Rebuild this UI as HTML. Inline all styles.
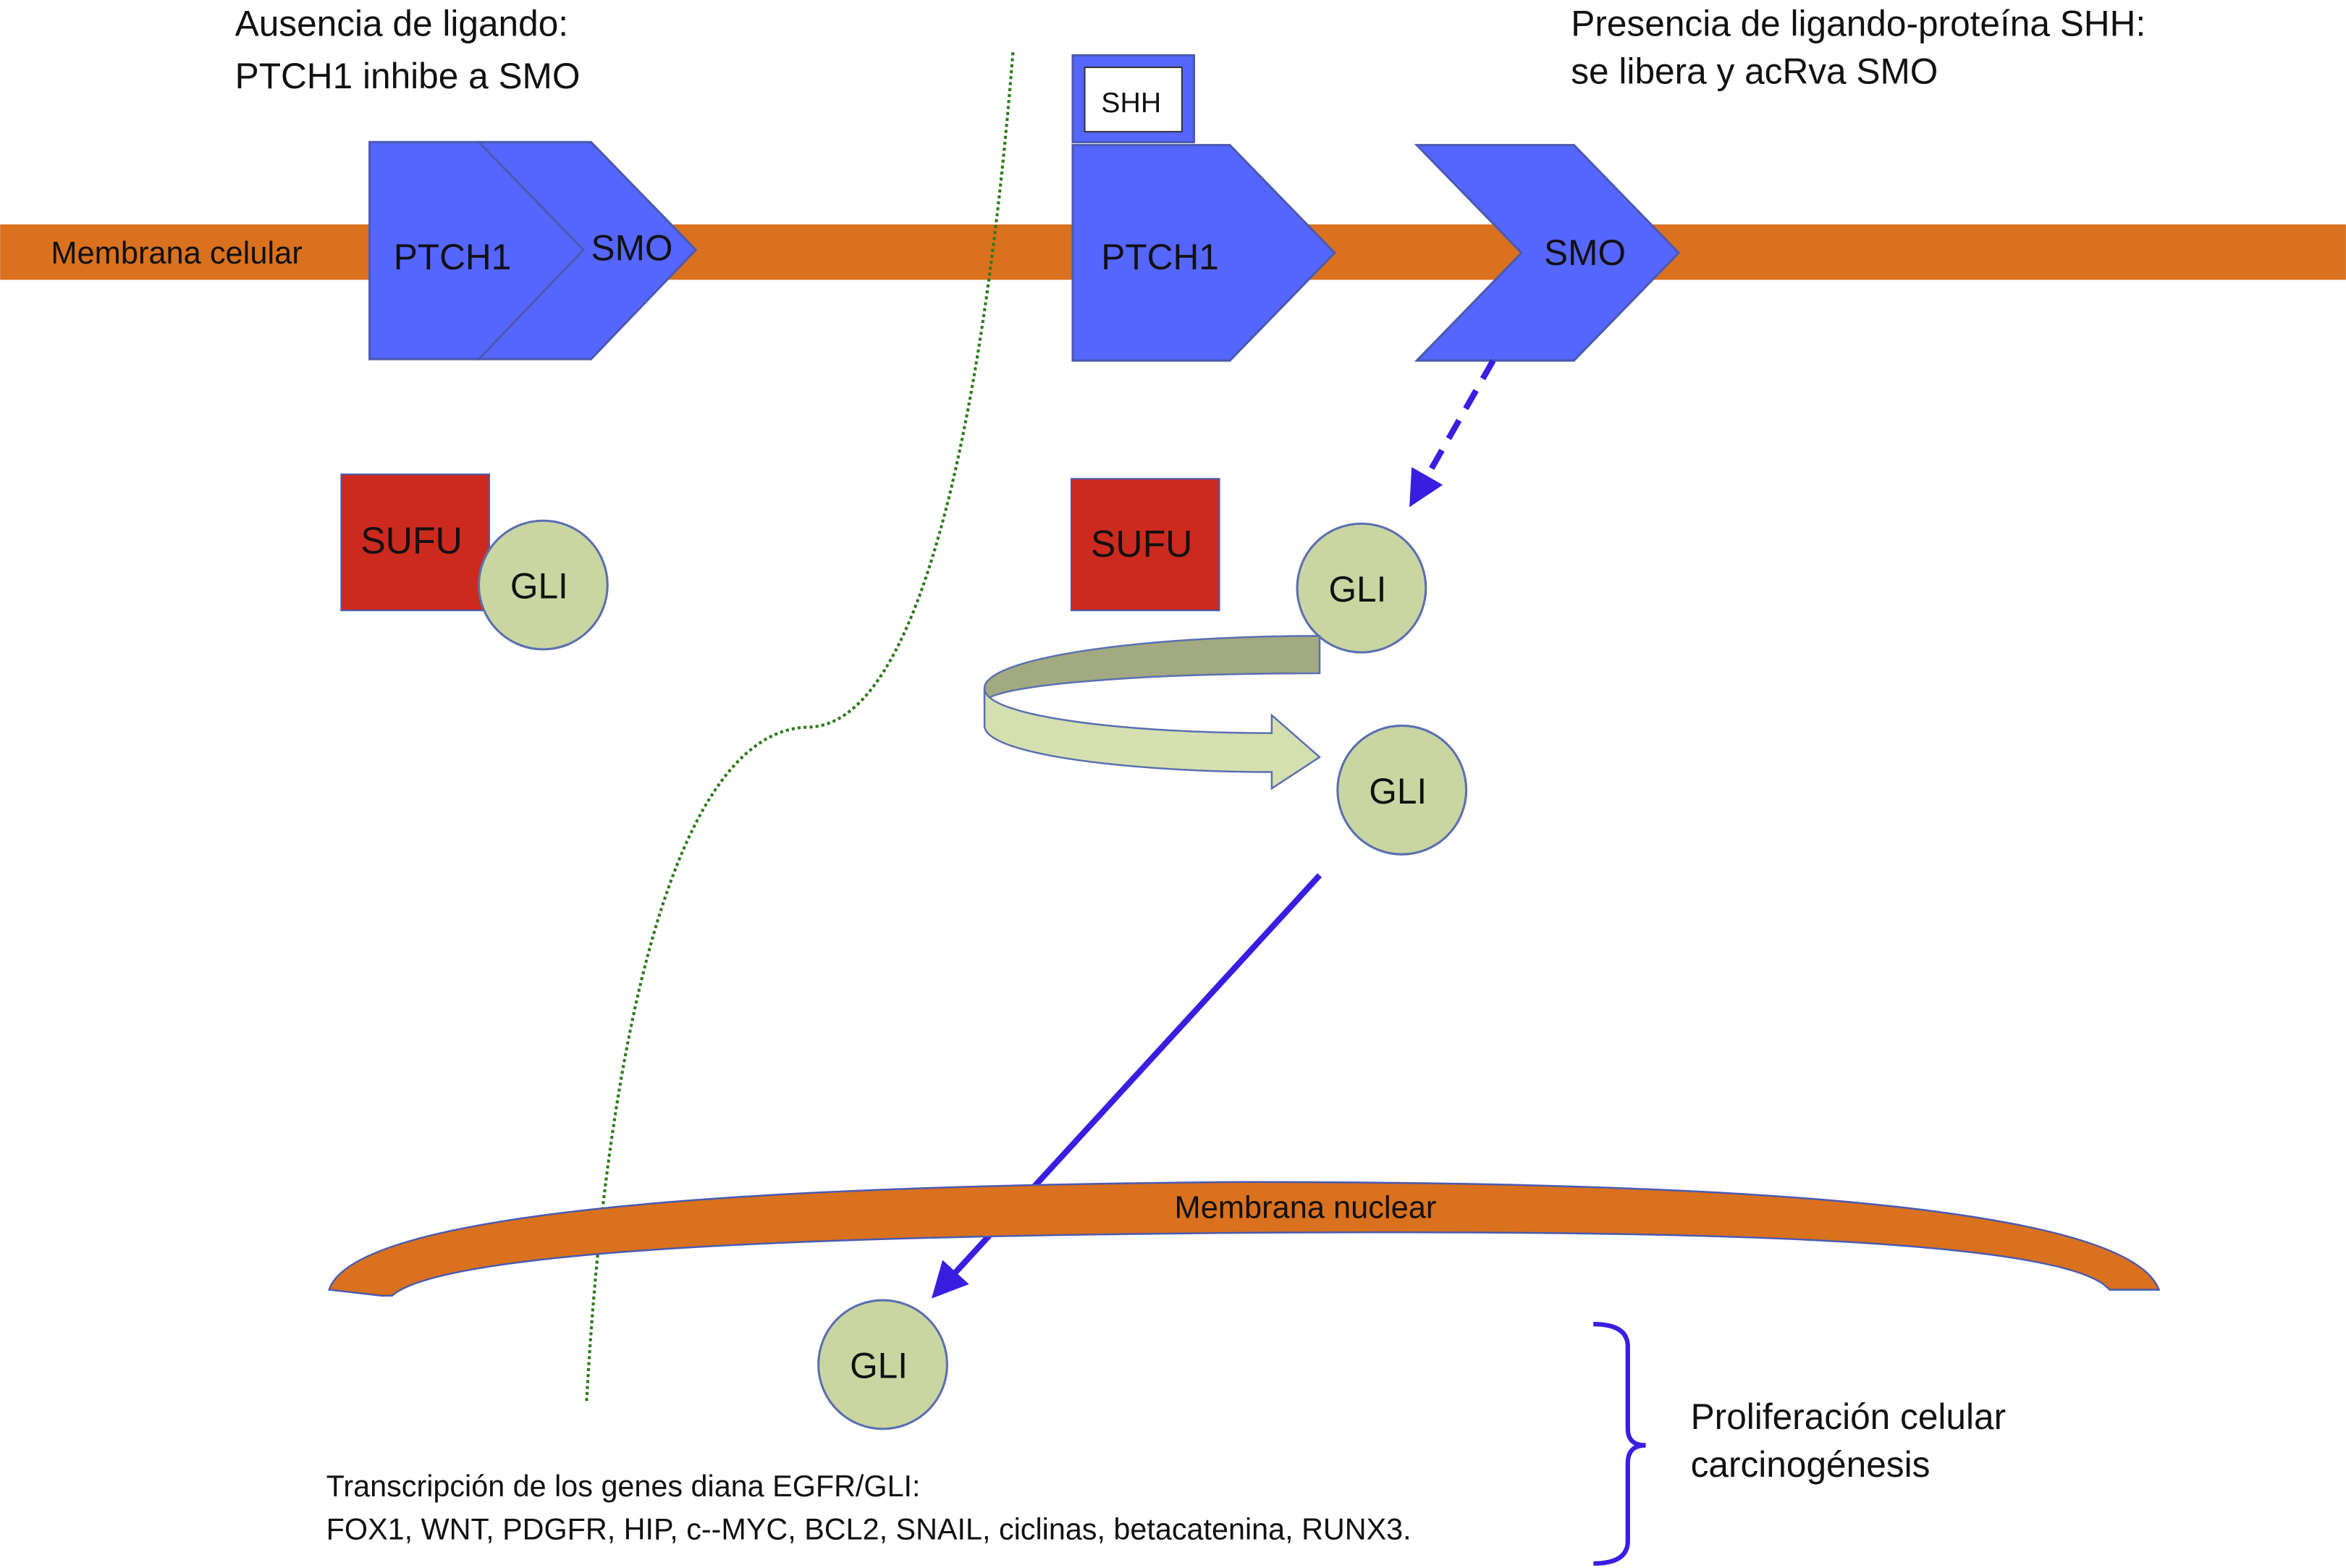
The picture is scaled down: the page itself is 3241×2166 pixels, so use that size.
<!DOCTYPE html>
<html><head><meta charset="utf-8"><style>
html,body{margin:0;padding:0;background:#fff;width:3241px;height:2166px;overflow:hidden}
svg{display:block}
text{font-family:"Liberation Sans",sans-serif;fill:#111}
</style></head><body>
<svg width="3241" height="2166" viewBox="0 0 1568 1048" xmlns="http://www.w3.org/2000/svg">
<defs>
<marker id="ah" markerWidth="6" markerHeight="6" refX="4" refY="3" orient="auto" markerUnits="strokeWidth"><path d="M0,0 L6,3 L0,6 z" fill="#3a1ee0"/></marker>
</defs>
<rect x="0" y="150" width="1568" height="37" fill="#D9711F"/>
<text x="34" y="176" font-size="21">Membrana celular</text>
<text x="157" y="24" font-size="24">Ausencia de ligando:</text>
<text x="157" y="59" font-size="24">PTCH1 inhibe a SMO</text>
<text x="1050" y="24" font-size="24">Presencia de ligando-proteína SHH:</text>
<text x="1050" y="56" font-size="24">se libera y acRva SMO</text>
<path d="M677,35 C660,250 620,485 540,486 C450,488 405,700 392,937" fill="none" stroke="#2d7a1a" stroke-width="2" stroke-dasharray="2,2"/>
<g fill="#5566FF" stroke="#4a5ab0" stroke-width="1.5">
<polygon points="247,95 320,95 390,167 320,240 247,240"/>
<polygon points="320,95 395,95 465,167 395,240 320,240 390,167"/>
<rect x="717" y="37" width="81" height="58"/>
<polygon points="717,97 822,97 892,169 822,241 717,241"/>
<polygon points="947,97 1052,97 1122,169 1052,241 947,241 1017,169"/>
</g>
<rect x="725" y="45" width="65" height="43" fill="#fff" stroke="#333" stroke-width="1"/>
<text x="736" y="75" font-size="19">SHH</text>
<text x="263" y="180" font-size="24">PTCH1</text>
<text x="395" y="174" font-size="24">SMO</text>
<text x="736" y="180" font-size="24">PTCH1</text>
<text x="1032" y="177" font-size="24">SMO</text>
<line x1="998" y1="241" x2="946" y2="332" stroke="#3a1ee0" stroke-width="4" stroke-dasharray="14,9" marker-end="url(#ah)"/>
<rect x="228" y="317" width="99" height="91" fill="#CC2A1E" stroke="#4a5ab0"/>
<text x="241" y="370" font-size="25">SUFU</text>
<rect x="716" y="320" width="99" height="88" fill="#CC2A1E" stroke="#4a5ab0"/>
<text x="729" y="372" font-size="25">SUFU</text>
<g fill="#CAD6A2" stroke="#5b6fb0" stroke-width="1.5">
<circle cx="363" cy="391" r="43"/>
<circle cx="910" cy="393" r="43"/>
<circle cx="937" cy="528" r="43"/>
<circle cx="590" cy="912" r="43"/>
</g>
<text x="341" y="400" font-size="24">GLI</text>
<text x="888" y="402" font-size="24">GLI</text>
<text x="915" y="537" font-size="24">GLI</text>
<text x="568" y="921" font-size="24">GLI</text>
<!-- curved arrow -->
<path d="M882,425 L882,450 C760,450 658,458 658,470 L658,460 C658,440 760,425 882,425 Z" fill="#A1AA80" stroke="#5b6fb0" stroke-width="1.2"/>
<path d="M658,460 L658,485 C658,505 760,516 850,516 L850,527 L882,506 L850,478 L850,490 C760,490 658,480 658,460 Z" fill="#D5E0B0" stroke="#5b6fb0" stroke-width="1.2"/>
<line x1="882" y1="585" x2="628" y2="862" stroke="#3a1ee0" stroke-width="4" marker-end="url(#ah)"/>
<!-- nuclear membrane -->
<path d="M220,862 C240,800 600,792 830,790 C1100,790 1420,800 1443,862 L1410,862 C1380,826 1100,822 830,824 C600,826 300,832 262,866 L255,866 Z" fill="#D9711F" stroke="#4a5ab0" stroke-width="1.2"/>
<text x="785" y="814" font-size="21">Membrana nuclear</text>
<path d="M1065,885 Q1088,885 1088,900 L1088,955 Q1088,966 1100,966 Q1088,966 1088,978 L1088,1030 Q1088,1045 1065,1045" fill="none" stroke="#3a1ee0" stroke-width="3"/>
<text x="1130" y="955" font-size="24">Proliferación celular</text>
<text x="1130" y="987" font-size="24">carcinogénesis</text>
<text x="218" y="1000" font-size="20">Transcripción de los genes diana EGFR/GLI:</text>
<text x="218" y="1029" font-size="20">FOX1, WNT, PDGFR, HIP, c--MYC, BCL2, SNAIL, ciclinas, betacatenina, RUNX3.</text>
</svg>
</body></html>
